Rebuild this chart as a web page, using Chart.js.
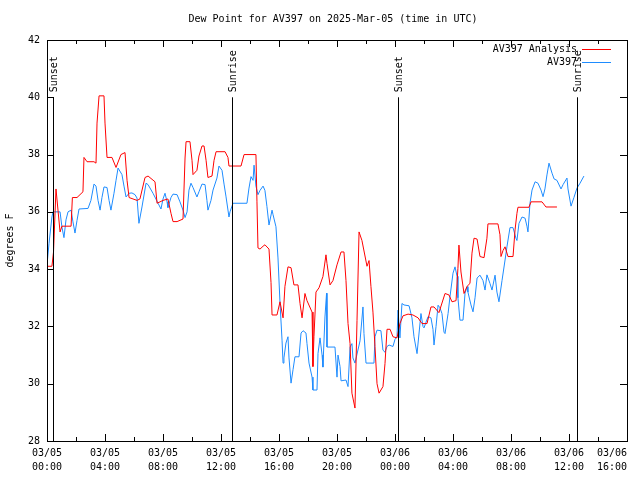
<!DOCTYPE html>
<html>
<head>
<meta charset="utf-8">
<script src="https://cdn.jsdelivr.net/npm/chart.js"></script>
<style>
    body { margin: 0; background: #fff; }
</style>
</head>
<body>
<canvas id="canvasDiemSuong" width="640" height="480"></canvas>
<script>
// Du lieu (gio tinh tu 03/05 00:00 UTC)
var redHours = [
    0, 0.34, 0.45, 0.62, 0.9, 1.03, 1.66, 1.75, 2.07, 2.48,
    2.55, 2.76, 3.24, 3.38, 3.45, 3.59, 3.93, 4.0, 4.14, 4.48,
    4.76, 5.1, 5.38, 5.52, 5.66, 6.21, 6.41, 6.76, 6.97, 7.45,
    7.59, 8.0, 8.34, 8.55, 8.69, 8.97, 9.38, 9.52, 9.59, 9.86,
    10.0, 10.07, 10.34, 10.48, 10.69, 10.83, 10.97, 11.1, 11.38, 11.52,
    11.66, 12.28, 12.48, 12.55, 13.38, 13.59, 14.41, 14.48, 14.55, 14.69,
    14.9, 15.03, 15.31, 15.45, 15.52, 15.86, 16.07, 16.28, 16.41, 16.62,
    16.83, 17.03, 17.31, 17.45, 17.59, 17.79, 17.93, 18.28, 18.34, 18.41,
    18.48, 18.55, 18.76, 19.03, 19.24, 19.31, 19.52, 19.72, 20.0, 20.28,
    20.48, 20.62, 20.76, 20.9, 21.03, 21.24, 21.38, 21.52, 21.72, 22.07,
    22.21, 22.34, 22.48, 22.62, 22.76, 22.9, 23.17, 23.31, 23.45, 23.66,
    23.86, 24.14, 24.34, 24.55, 24.9, 25.24, 25.59, 25.86, 26.21, 26.48,
    26.69, 27.03, 27.45, 27.72, 27.93, 28.21, 28.34, 28.41, 28.55, 28.76,
    28.97, 29.17, 29.31, 29.45, 29.66, 29.86, 30.14, 30.34, 30.41, 31.1,
    31.24, 31.31, 31.45, 31.59, 31.79, 32.14, 32.28, 32.41, 32.48, 33.24,
    33.38, 34.14, 34.41, 35.17
];
var redValues = [
    34.1, 34.1, 34.6, 36.8, 35.3, 35.5, 35.5, 36.5, 36.5, 36.7,
    37.9, 37.75, 37.75, 37.7, 39.1, 40.05, 40.05, 39.1, 37.9, 37.9,
    37.55, 38.0, 38.07, 37.1, 36.5, 36.4, 36.45, 37.2, 37.25, 37.05,
    36.3, 36.4, 36.45, 35.95, 35.66, 35.66, 35.75, 37.88, 38.45, 38.45,
    37.8, 37.3, 37.45, 37.95, 38.3, 38.3, 37.8, 37.2, 37.25, 37.8,
    38.1, 38.1, 37.9, 37.6, 37.6, 38.0, 38.0, 36.35, 34.74, 34.7,
    34.8, 34.85, 34.7, 33.53, 32.4, 32.4, 32.86, 32.3, 33.4, 34.08,
    34.05, 33.45, 33.45, 32.8, 32.3, 33.15, 32.9, 32.5, 30.6, 31.64,
    32.4, 33.2, 33.35, 33.74, 34.5, 34.2, 33.45, 33.6, 34.15, 34.6,
    34.6, 33.6, 32.1, 31.4, 29.67, 29.15, 32.2, 35.3, 35.0, 34.1,
    34.3, 33.4, 32.5, 31.3, 30.0, 29.67, 29.9, 30.7, 31.9, 31.9,
    31.64, 31.6, 32.1, 32.37, 32.43, 32.4, 32.3, 32.1, 32.1, 32.68,
    32.68, 32.48, 33.15, 33.1, 32.86, 32.9, 34.03, 34.84, 33.9, 33.15,
    33.4, 33.5, 34.56, 35.08, 35.05, 34.44, 34.4, 35.08, 35.58, 35.58,
    35.2, 34.44, 34.65, 34.78, 34.44, 34.44, 35.37, 35.95, 36.16, 36.16,
    36.35, 36.35, 36.17, 36.17
];
var blueHours = [
    0, 0.14, 0.34, 0.41, 0.9, 1.03, 1.17, 1.31, 1.45, 1.66,
    1.79, 1.93, 2.07, 2.21, 2.83, 3.03, 3.24, 3.38, 3.52, 3.66,
    3.79, 3.93, 4.14, 4.28, 4.41, 4.62, 4.76, 4.9, 5.17, 5.31,
    5.45, 5.66, 5.86, 6.07, 6.21, 6.34, 6.55, 6.83, 6.97, 7.31,
    7.66, 7.86, 8.0, 8.14, 8.28, 8.34, 8.55, 8.69, 8.97, 9.17,
    9.38, 9.52, 9.66, 9.79, 9.93, 10.07, 10.34, 10.48, 10.69, 10.9,
    11.03, 11.1, 11.31, 11.45, 11.72, 11.86, 12.07, 12.21, 12.34, 12.55,
    12.62, 12.83, 13.79, 13.93, 14.07, 14.21, 14.28, 14.41, 14.55, 14.69,
    14.9, 15.03, 15.17, 15.31, 15.52, 15.59, 15.79, 15.93, 16.07, 16.21,
    16.28, 16.34, 16.48, 16.62, 16.69, 16.83, 16.97, 17.1, 17.38, 17.52,
    17.66, 17.86, 17.93, 18.07, 18.28, 18.34, 18.62, 18.69, 18.83, 18.97,
    19.03, 19.17, 19.28, 19.31, 19.86, 20.0, 20.07, 20.21, 20.28, 20.62,
    20.76, 20.9, 21.03, 21.1, 21.24, 21.59, 21.79, 21.86, 22.0, 22.55,
    22.62, 22.76, 23.03, 23.17, 23.31, 23.45, 23.59, 23.86, 24.0, 24.14,
    24.21, 24.34, 24.48, 24.62, 24.97, 25.17, 25.31, 25.52, 25.79, 25.93,
    26.0, 26.14, 26.28, 26.48, 26.62, 26.69, 26.83, 26.97, 27.1, 27.24,
    27.38, 27.45, 27.66, 27.79, 28.0, 28.14, 28.28, 28.34, 28.48, 28.69,
    28.83, 28.97, 29.03, 29.24, 29.38, 29.52, 29.66, 29.86, 30.07, 30.21,
    30.34, 30.55, 30.69, 30.9, 31.03, 31.17, 31.38, 31.59, 31.72, 31.93,
    32.14, 32.34, 32.41, 32.55, 32.76, 32.97, 33.1, 33.17, 33.31, 33.45,
    33.66, 33.86, 34.07, 34.21, 34.34, 34.48, 34.62, 34.83, 34.97, 35.17,
    35.45, 35.59, 35.86, 35.93, 36.14, 36.34, 36.55, 36.76, 37.03
];
var blueValues = [
    34.15, 34.9, 35.82, 36.0, 36.0, 35.47, 35.1, 35.72, 36.0, 36.06,
    35.65, 35.26, 35.7, 36.1, 36.12, 36.4, 36.97, 36.9, 36.4, 36.06,
    36.5, 36.87, 36.85, 36.4, 36.06, 36.65, 37.1, 37.53, 37.3, 36.9,
    36.52, 36.65, 36.66, 36.6, 36.48, 35.6, 36.17, 37.0, 36.95, 36.65,
    36.3, 36.1, 36.45, 36.65, 36.35, 36.15, 36.5, 36.62, 36.6, 36.35,
    36.06, 35.8, 36.0, 36.76, 37.0, 36.85, 36.52, 36.7, 36.97, 36.95,
    36.4, 36.06, 36.4, 36.76, 37.18, 37.6, 37.45, 36.97, 36.55, 35.82,
    36.0, 36.3, 36.3, 36.83, 37.23, 37.1, 37.63, 36.9, 36.6, 36.75,
    36.9, 36.75, 36.18, 35.54, 36.06, 35.9, 35.48, 34.39, 32.82, 31.52,
    30.72, 30.9, 31.42, 31.64, 30.9, 30.02, 30.5, 30.94, 30.94, 31.77,
    31.85, 31.77, 31.4, 30.72, 30.23, 29.78, 29.78, 31.06, 31.6, 31.0,
    30.58, 32.33, 33.16, 31.28, 31.28, 30.23, 31.0, 30.6, 30.1, 30.13,
    29.9, 31.28, 31.4, 30.9, 30.72, 31.5, 32.68, 31.75, 30.72, 30.72,
    31.64, 31.87, 31.85, 31.17, 31.1, 31.3, 31.35, 31.3, 31.55, 31.64,
    32.57, 31.6, 32.8, 32.75, 32.72, 32.3, 31.64, 31.05, 32.45, 32.0,
    31.95, 32.15, 32.34, 32.3, 31.9, 31.35, 32.0, 32.74, 32.65, 32.45,
    31.8, 31.75, 32.45, 33.03, 33.86, 34.08, 33.75, 33.0, 32.22, 32.22,
    33.16, 33.39, 33.2, 32.75, 32.51, 33.0, 33.69, 33.79, 33.6, 33.27,
    33.8, 33.5, 33.27, 33.79, 33.2, 32.86, 33.6, 34.32, 34.78, 35.45,
    35.45, 35.08, 35.0, 35.6, 35.82, 35.78, 35.5, 35.3, 36.3, 36.76,
    37.05, 37.0, 36.76, 36.53, 36.8, 37.29, 37.7, 37.35, 37.15, 37.1,
    36.8, 36.95, 37.18, 36.8, 36.2, 36.5, 36.83, 37.0, 37.25
];
var seriesNames = ['AV397 Analysis', 'AV397'];
var seriesColors = ['#ff0000', '#1e8cff'];
var tickDates = ['03/05', '03/05', '03/05', '03/05', '03/05', '03/05', '03/06', '03/06', '03/06', '03/06', '03/06'];
var tickTimes = ['00:00', '04:00', '08:00', '12:00', '16:00', '20:00', '00:00', '04:00', '08:00', '12:00', '16:00'];
var sunHours = [0.41, 12.76, 24.21, 36.55];
var sunLabels = ['Sunset', 'Sunrise', 'Sunset', 'Sunrise'];

var FONT = 'DejaVu Sans Mono';

function ghepDiem(hours, values) {
    var pts = [];
    for (var i = 0; i < hours.length; i++) {
        pts.push({ x: hours[i], y: values[i] });
    }
    return pts;
}

// Plugin ve khung, vach chia, duong mat troi, chu thich
var khung = {
    id: 'khung',
    afterDatasetsDraw: function (chart) {
        var ctx = chart.ctx, a = chart.chartArea;
        var xs = chart.scales.x, ys = chart.scales.y;
        ctx.save();
        ctx.strokeStyle = '#000';
        ctx.lineWidth = 1;
        ctx.beginPath();
        xs.ticks.forEach(function (t) {
            var px = Math.round(xs.getPixelForValue(t.value)) + 0.5;
            var len = t.value % 4 === 0 ? 7 : 4;
            ctx.moveTo(px, a.bottom); ctx.lineTo(px, a.bottom - len);
            ctx.moveTo(px, a.top); ctx.lineTo(px, a.top + len);
        });
        ys.ticks.forEach(function (t) {
            var py = Math.round(ys.getPixelForValue(t.value)) + 0.5;
            ctx.moveTo(a.left, py); ctx.lineTo(a.left + 7, py);
            ctx.moveTo(a.right, py); ctx.lineTo(a.right - 7, py);
        });
        // duong mat troi
        for (var i = 0; i < sunHours.length; i++) {
            var sx = Math.round(xs.getPixelForValue(sunHours[i])) + 0.5;
            ctx.moveTo(sx, ys.getPixelForValue(28));
            ctx.lineTo(sx, ys.getPixelForValue(40));
        }
        ctx.stroke();
        ctx.strokeRect(Math.round(a.left) + 0.5, Math.round(a.top) + 0.5,
            Math.round(a.right - a.left), Math.round(a.bottom - a.top));

        ctx.fillStyle = '#000';
        ctx.font = '10px "' + FONT + '"';
        ctx.textBaseline = 'middle';
        for (var j = 0; j < sunHours.length; j++) {
            var lx = Math.round(xs.getPixelForValue(sunHours[j])) + 1;
            ctx.save();
            ctx.translate(lx, ys.getPixelForValue(40) - 5);
            ctx.rotate(-Math.PI / 2);
            ctx.textAlign = 'left';
            ctx.fillText(sunLabels[j], 0, 0);
            ctx.restore();
        }

        // chu thich
        for (var k = 0; k < seriesNames.length; k++) {
            var ly = 49 + k * 13;
            ctx.textAlign = 'right';
            ctx.fillStyle = '#000';
            ctx.fillText(seriesNames[k], 577, ly);
            ctx.strokeStyle = seriesColors[k];
            ctx.beginPath();
            ctx.moveTo(582, ly + 0.5);
            ctx.lineTo(611, ly + 0.5);
            ctx.stroke();
        }

        // tieu de
        ctx.textAlign = 'center';
        ctx.fillStyle = '#000';
        ctx.fillText('Dew Point for AV397 on 2025-Mar-05 (time in UTC)', 333, 19);
        ctx.restore();
    }
};

function VeDoThi() {
    new Chart('canvasDiemSuong', {
        type: 'line',
        data: {
            datasets: [{
                label: seriesNames[0],
                data: ghepDiem(redHours, redValues),
                borderColor: seriesColors[0],
                borderWidth: 1,
                pointRadius: 0,
                tension: 0,
                fill: false
            }, {
                label: seriesNames[1],
                data: ghepDiem(blueHours, blueValues),
                borderColor: seriesColors[1],
                borderWidth: 1,
                pointRadius: 0,
                tension: 0,
                fill: false
            }]
        },
        options: {
            responsive: false,
            animation: false,
            layout: { padding: { top: 40, right: 13, left: 0, bottom: 0 } },
            plugins: {
                legend: { display: false },
                tooltip: { enabled: false },
                title: { display: false }
            },
            scales: {
                x: {
                    type: 'linear',
                    min: 0,
                    max: 40,
                    grid: { display: false, drawTicks: false },
                    border: { display: false },
                    ticks: {
                        stepSize: 2,
                        autoSkip: false,
                        maxRotation: 0,
                        padding: 5,
                        color: '#000',
                        font: { family: FONT, size: 10, lineHeight: 1.4 },
                        callback: function (v) {
                            if (v % 4 !== 0) return '';
                            var i = v / 4;
                            // nhan cuoi lui vao trong khung hinh
                            var du = (i === tickDates.length - 1) ? '     ' : '';
                            return [tickDates[i] + du, tickTimes[i] + du];
                        }
                    },
                    afterFit: function (scale) {
                        scale.height = 39;
                        scale.paddingLeft = 0;
                        scale.paddingRight = 0;
                    }
                },
                y: {
                    min: 28,
                    max: 42,
                    grid: { display: false, drawTicks: false },
                    border: { display: false },
                    ticks: {
                        stepSize: 2,
                        padding: 7,
                        color: '#000',
                        font: { family: FONT, size: 10 }
                    },
                    title: {
                        display: true,
                        text: 'degrees F',
                        color: '#000',
                        font: { family: FONT, size: 10, lineHeight: 1.2 },
                        padding: { top: 4, bottom: 0 }
                    },
                    afterFit: function (scale) {
                        scale.width = 47;
                        scale.paddingTop = 0;
                        scale.paddingBottom = 0;
                    }
                }
            }
        },
        plugins: [khung]
    });
}

VeDoThi();
</script>
</body>
</html>
